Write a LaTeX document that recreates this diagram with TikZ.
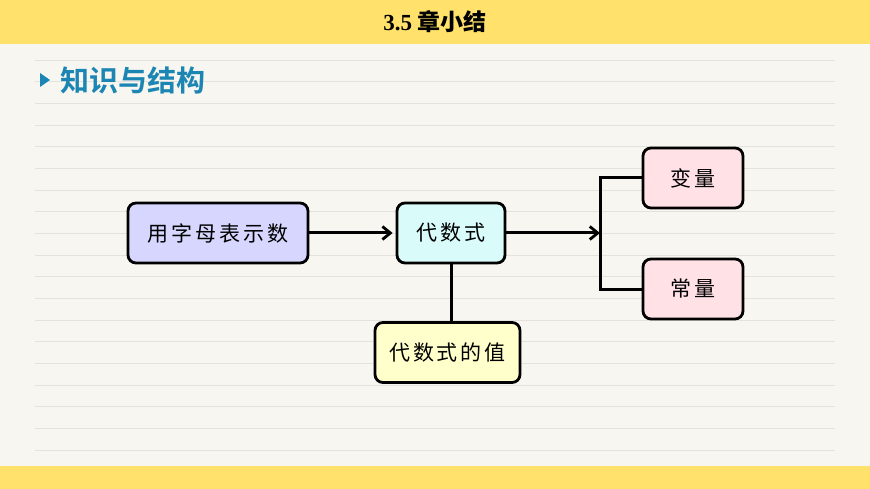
\documentclass[tikz,border=0pt]{standalone}
\usepackage{fontspec}
\setmainfont{Liberation Serif}
\newfontfamily\cjk{Noto Sans CJK SC}
\newfontfamily\cjkbox[LetterSpace=14]{Noto Sans CJK SC}
\newfontfamily\cjkbold[BoldFont={Noto Sans CJK SC Bold}]{Noto Sans CJK SC}
\usetikzlibrary{arrows.meta}
\definecolor{bgpaper}{HTML}{F8F6F0}
\definecolor{ruleline}{HTML}{E4E2DC}
\definecolor{barye}{HTML}{FFE16B}
\definecolor{headblue}{HTML}{1B86B3}
\definecolor{lav}{HTML}{D6D6FF}
\definecolor{cyanish}{HTML}{D9FBFA}
\definecolor{yell}{HTML}{FFFFCC}
\definecolor{pinkish}{HTML}{FFE1E6}
\tikzset{
  box/.style={draw=black, line width=2.8pt, rounded corners=8pt, minimum height=60pt, inner sep=0pt, font=\cjkbox\fontsize{21}{21}\selectfont},
  conn/.style={draw=black, line width=3pt},
  arr/.style={conn, -{Straight Barb[length=8pt,width=13pt,line width=2.8pt]}}
}
\begin{document}
\begin{tikzpicture}[x=1pt,y=-1pt]
\useasboundingbox (0,0) rectangle (870,489);
\fill[bgpaper] (0,0) rectangle (870,489);
\foreach \k in {0,...,18} {
  \draw[ruleline, line width=0.8pt] (35,{60+\k*21.67}) -- (835,{60+\k*21.67});
}
\fill[barye] (0,0) rectangle (870,44);
\fill[barye] (0,466) rectangle (870,489);
\node[font=\bfseries\fontsize{23}{23}\selectfont, inner sep=0pt] (title) at (435,22) {3.5 {\cjk 章小结}};
\fill[headblue] (40,73) -- (50,80) -- (40,87) -- cycle;
\node[anchor=west, text=headblue, font=\cjkbold\bfseries\fontsize{29}{29}\selectfont, inner sep=0pt] (head) at (60,80) {知识与结构};

\node[box, fill=lav, minimum width=180pt] (a) at (218,233) {用字母表示数};
\node[box, fill=cyanish, minimum width=108pt] (b) at (451,233) {代数式};
\node[box, fill=yell, minimum width=145pt] (c) at (447.5,352.5) {代数式的值};
\node[box, fill=pinkish, minimum width=100pt] (d) at (693,178) {变量};
\node[box, fill=pinkish, minimum width=100pt] (e) at (693,289) {常量};
\coordinate (j) at (600,233);
\coordinate (jt) at (600,178);
\coordinate (jb) at (600,289);

\draw[arr] (a.east) -- ([xshift=-3pt]b.west);
\draw[arr] (b.east) -- (j);
\draw[conn] (d.west) -- (jt) -- (jb) -- (e.west);
\draw[conn] (b.south -| 451,0) -- (c.north -| 451,0);
\end{tikzpicture}
\end{document}
